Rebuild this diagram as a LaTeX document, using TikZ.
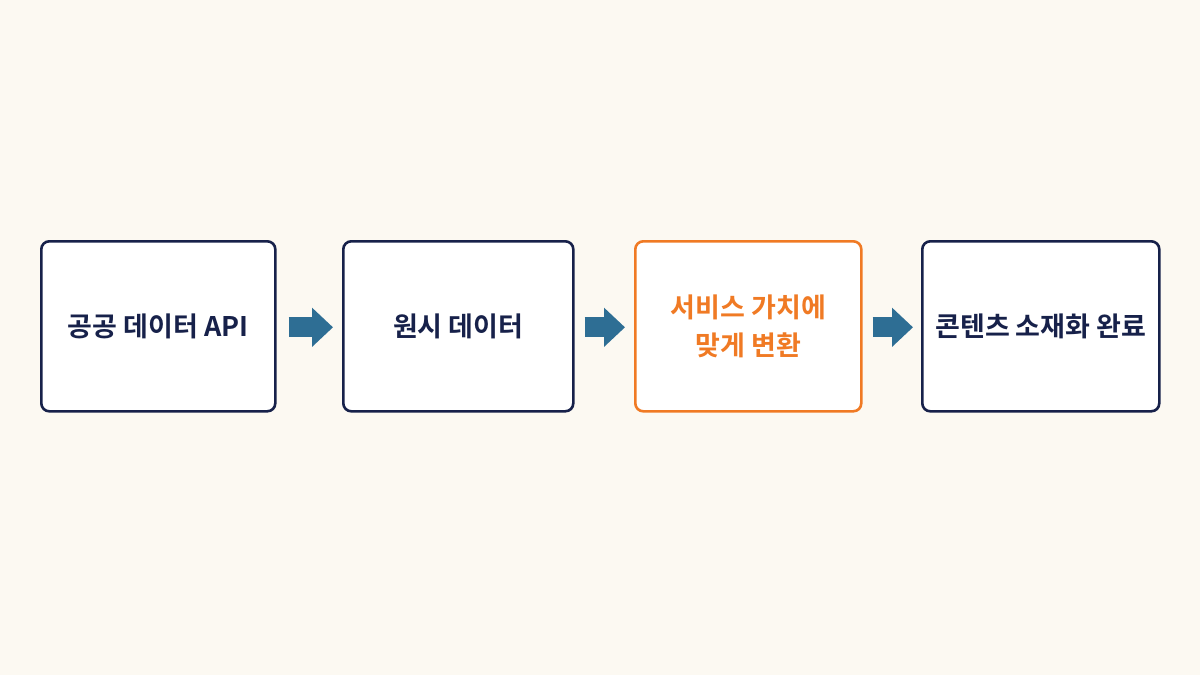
\documentclass[tikz,border=0pt]{standalone}
\usepackage{fontspec}
\setmainfont{Noto Sans CJK KR}[BoldFont=* Bold]
\usetikzlibrary{arrows.meta}
\definecolor{bg}{HTML}{FCF9F2}
\definecolor{navy}{HTML}{17214A}
\definecolor{orng}{HTML}{F07A24}
\definecolor{arr}{HTML}{2E6E94}
\tikzset{
  box/.style={draw=navy, line width=2.6pt, rounded corners=8pt, fill=white, inner sep=0pt, anchor=north west, font=\fontsize{27}{38}\selectfont\bfseries, text=navy, align=center},
  hot/.style={draw=orng, text=orng},
  flow/.style={arr, line width=20pt, -{Triangle[width=38pt,length=21pt]}}
}
\begin{document}
\begin{tikzpicture}[x=1pt,y=-1pt]
\fill[bg] (0,0) rectangle (1200,675);
\useasboundingbox (0,0) rectangle (1200,675);
\node[box, minimum width=234pt, minimum height=170pt] (b1) at (40,240) {공공 데이터 API};
\node[box, minimum width=230pt, minimum height=170pt] (b2) at (342,240) {원시 데이터};
\node[box, hot, minimum width=226pt, minimum height=170pt] (b3) at (634,240) {서비스 가치에\\맞게 변환};
\node[box, minimum width=237pt, minimum height=170pt] (b4) at (921,240) {콘텐츠 소재화 완료};
\draw[flow] ([xshift=12pt,yshift=-1pt]b1.east) -- ([xshift=-9pt,yshift=-1pt]b2.west);
\draw[flow] ([xshift=10pt,yshift=-1pt]b2.east) -- ([xshift=-9pt,yshift=-1pt]b3.west);
\draw[flow] ([xshift=10pt,yshift=-1pt]b3.east) -- ([xshift=-8pt,yshift=-1pt]b4.west);
\end{tikzpicture}
\end{document}
